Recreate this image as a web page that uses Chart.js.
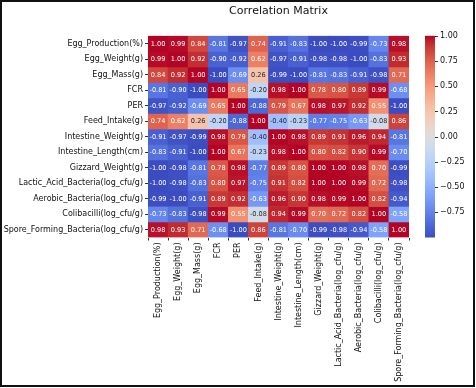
<!DOCTYPE html>
<html>
<head>
<meta charset="utf-8">
<script src="https://cdn.jsdelivr.net/npm/chart.js@4.4.1/dist/chart.umd.min.js"></script>
<style>
  html, body { margin: 0; padding: 0; background: #fff; }
  #wrap { width: 476px; height: 388px; }
</style>
</head>
<body>
<div id="wrap"><canvas id="c" width="476" height="388"></canvas></div>
<script>
const variables = [
  "Egg_Production(%)", "Egg_Weight(g)", "Egg_Mass(g)", "FCR", "PER", "Feed_Intake(g)",
  "Intestine_Weight(g)", "Intestine_Length(cm)", "Gizzard_Weight(g)",
  "Lactic_Acid_Bacteria(log_cfu/g)", "Aerobic_Bacteria(log_cfu/g)",
  "Colibacilli(log_cfu/g)", "Spore_Forming_Bacteria(log_cfu/g)"
];
const colorbarTicks = [-0.75, -0.5, -0.25, 0, 0.25, 0.5, 0.75, 1.0];

const eggProduction   = [ 1.00,  0.99,  0.84, -0.81, -0.97,  0.74, -0.91, -0.83, -1.00, -1.00, -0.99, -0.73,  0.98];
const eggWeight       = [ 0.99,  1.00,  0.92, -0.90, -0.92,  0.62, -0.97, -0.91, -0.98, -0.98, -1.00, -0.83,  0.93];
const eggMass         = [ 0.84,  0.92,  1.00, -1.00, -0.69,  0.26, -0.99, -1.00, -0.81, -0.83, -0.91, -0.98,  0.71];
const fcr             = [-0.81, -0.90, -1.00,  1.00,  0.65, -0.20,  0.98,  1.00,  0.78,  0.80,  0.89,  0.99, -0.68];
const per             = [-0.97, -0.92, -0.69,  0.65,  1.00, -0.88,  0.79,  0.67,  0.98,  0.97,  0.92,  0.55, -1.00];
const feedIntake      = [ 0.74,  0.62,  0.26, -0.20, -0.88,  1.00, -0.40, -0.23, -0.77, -0.75, -0.63, -0.08,  0.86];
const intestineWeight = [-0.91, -0.97, -0.99,  0.98,  0.79, -0.40,  1.00,  0.98,  0.89,  0.91,  0.96,  0.94, -0.81];
const intestineLength = [-0.83, -0.91, -1.00,  1.00,  0.67, -0.23,  0.98,  1.00,  0.80,  0.82,  0.90,  0.99, -0.70];
const gizzardWeight   = [-1.00, -0.98, -0.81,  0.78,  0.98, -0.77,  0.89,  0.80,  1.00,  1.00,  0.98,  0.70, -0.99];
const lacticAcid      = [-1.00, -0.98, -0.83,  0.80,  0.97, -0.75,  0.91,  0.82,  1.00,  1.00,  0.99,  0.72, -0.98];
const aerobic         = [-0.99, -1.00, -0.91,  0.89,  0.92, -0.63,  0.96,  0.90,  0.98,  0.99,  1.00,  0.82, -0.94];
const colibacilli     = [-0.73, -0.83, -0.98,  0.99,  0.55, -0.08,  0.94,  0.99,  0.70,  0.72,  0.82,  1.00, -0.58];
const sporeForming    = [ 0.98,  0.93,  0.71, -0.68, -1.00,  0.86, -0.81, -0.70, -0.99, -0.98, -0.94, -0.58,  1.00];

const matrix = [eggProduction, eggWeight, eggMass, fcr, per, feedIntake, intestineWeight,
  intestineLength, gizzardWeight, lacticAcid, aerobic, colibacilli, sporeForming];

// coolwarm colormap
const CW = [
  [59,76,192],[68,90,204],[77,104,215],[87,117,225],[98,130,234],[108,142,241],[119,154,247],
  [130,165,251],[141,176,254],[152,185,255],[163,194,255],[174,201,253],[184,208,249],
  [194,213,244],[204,217,238],[213,219,230],[221,221,221],[229,216,209],[236,211,197],
  [241,204,185],[245,196,173],[247,187,160],[247,177,148],[247,166,135],[244,154,123],
  [241,141,111],[236,127,99],[229,112,88],[222,96,77],[213,80,66],[203,62,56],[192,40,47],[180,4,38]
];
function cwRGB(t) {
  t = Math.max(0, Math.min(1, t));
  const p = t * (CW.length - 1);
  const i = Math.min(Math.floor(p), CW.length - 2);
  const f = p - i;
  return [0,1,2].map(k => CW[i][k] + (CW[i+1][k] - CW[i][k]) * f);
}
const VMIN = -1, VMAX = 1;
function valColor(v) {
  const c = cwRGB((v - VMIN) / (VMAX - VMIN));
  return `rgb(${c[0].toFixed(0)},${c[1].toFixed(0)},${c[2].toFixed(0)})`;
}
function textColor(v) {
  const c = cwRGB((v - VMIN) / (VMAX - VMIN)).map(x => {
    x /= 255; return x <= 0.03928 ? x / 12.92 : Math.pow((x + 0.055) / 1.055, 2.4);
  });
  const lum = 0.2126 * c[0] + 0.7152 * c[1] + 0.0722 * c[2];
  return lum > 0.408 ? '#262626' : '#ffffff';
}

const FONT = "'DejaVu Sans', sans-serif";

const datasets = matrix.map((row, k) => ({
  label: variables[k],
  data: row.map(() => 1),
  values: row,
  backgroundColor: row.map(valColor),
  borderWidth: 0,
  barPercentage: 1,
  categoryPercentage: 1,
  stack: 's'
}));

const decorPlugin = {
  id: 'decor',
  beforeDraw(chart) {
    const ctx = chart.ctx;
    ctx.save();
    ctx.fillStyle = '#fff';
    ctx.fillRect(0, 0, chart.width, chart.height);
    ctx.restore();
  },
  afterDatasetsDraw(chart) {
    const ctx = chart.ctx;
    ctx.save();
    ctx.font = `6.6px ${FONT}`;
    ctx.textAlign = 'center';
    ctx.textBaseline = 'middle';
    chart.data.datasets.forEach((ds, k) => {
      const meta = chart.getDatasetMeta(k);
      meta.data.forEach((el, j) => {
        const v = ds.values[j];
        ctx.fillStyle = textColor(v);
        ctx.fillText(v.toFixed(2), el.x, (el.y + el.base) / 2 + 0.5);
      });
    });
    ctx.restore();
  },
  afterDraw(chart) {
    const ctx = chart.ctx;
    const area = chart.chartArea;
    const cb = chart.scales.cb;
    ctx.save();
    // title
    ctx.fillStyle = '#111';
    ctx.font = `11px ${FONT}`;
    ctx.textAlign = 'center';
    ctx.textBaseline = 'middle';
    ctx.fillText('Correlation Matrix', (area.left + area.right) / 2, 11.5);
    // colorbar
    const x0 = 425, x1 = 435;
    const yTop = cb.getPixelForValue(VMAX), yBot = cb.getPixelForValue(VMIN);
    const g = ctx.createLinearGradient(0, yBot, 0, yTop);
    CW.forEach((c, i) => g.addColorStop(i / (CW.length - 1), `rgb(${c[0]},${c[1]},${c[2]})`));
    ctx.fillStyle = g;
    ctx.fillRect(x0, yTop, x1 - x0, yBot - yTop);
    ctx.strokeStyle = '#333';
    ctx.lineWidth = 1;
    colorbarTicks.forEach(t => {
      const y = Math.round(cb.getPixelForValue(t)) + 0.5;
      ctx.beginPath();
      ctx.moveTo(x1, y);
      ctx.lineTo(x1 + 3, y);
      ctx.stroke();
    });
    // frame
    ctx.strokeStyle = '#111';
    ctx.lineWidth = 2;
    ctx.strokeRect(1, 1, 473, 385);
    ctx.restore();
  }
};

new Chart(document.getElementById('c'), {
  type: 'bar',
  data: { labels: variables, datasets },
  options: {
    responsive: false,
    animation: false,
    events: [],
    layout: { padding: { top: 18.5, left: 0, right: 0, bottom: 0 } },
    plugins: { legend: { display: false }, tooltip: { enabled: false }, title: { display: false } },
    scales: {
      x: {
        type: 'category',
        stacked: true,
        offset: true,
        grid: { display: true, drawOnChartArea: false, drawTicks: true, tickLength: 3, color: '#333' },
        border: { display: false },
        ticks: {
          autoSkip: false, maxRotation: 90, minRotation: 90, padding: 2,
          color: '#111', font: { family: FONT, size: 8 }
        },
        afterFit(s) { s.height = 150.5; }
      },
      y: {
        type: 'linear',
        stacked: true,
        reverse: true,
        min: 0,
        max: variables.length,
        position: 'left',
        grid: { display: true, drawOnChartArea: false, drawTicks: true, tickLength: 3, color: '#333' },
        border: { display: false },
        afterBuildTicks(s) { s.ticks = variables.map((_, i) => ({ value: i + 0.5 })); },
        ticks: {
          autoSkip: false, padding: 2, color: '#111', font: { family: FONT, size: 8 },
          callback: (v) => variables[Math.floor(v)]
        },
        afterFit(s) { s.width = 148; }
      },
      cb: {
        type: 'linear',
        position: 'right',
        min: VMIN,
        max: VMAX,
        grid: { display: true, drawOnChartArea: false, drawTicks: false },
        border: { display: false },
        afterBuildTicks(s) { s.ticks = colorbarTicks.map(v => ({ value: v })); },
        ticks: {
          autoSkip: false, padding: 31, color: '#111', font: { family: FONT, size: 8 },
          callback: (v) => v.toFixed(2).replace('-', '\u2212')
        },
        afterFit(s) { s.width = 67; }
      }
    }
  },
  plugins: [decorPlugin]
});
</script>
</body>
</html>
